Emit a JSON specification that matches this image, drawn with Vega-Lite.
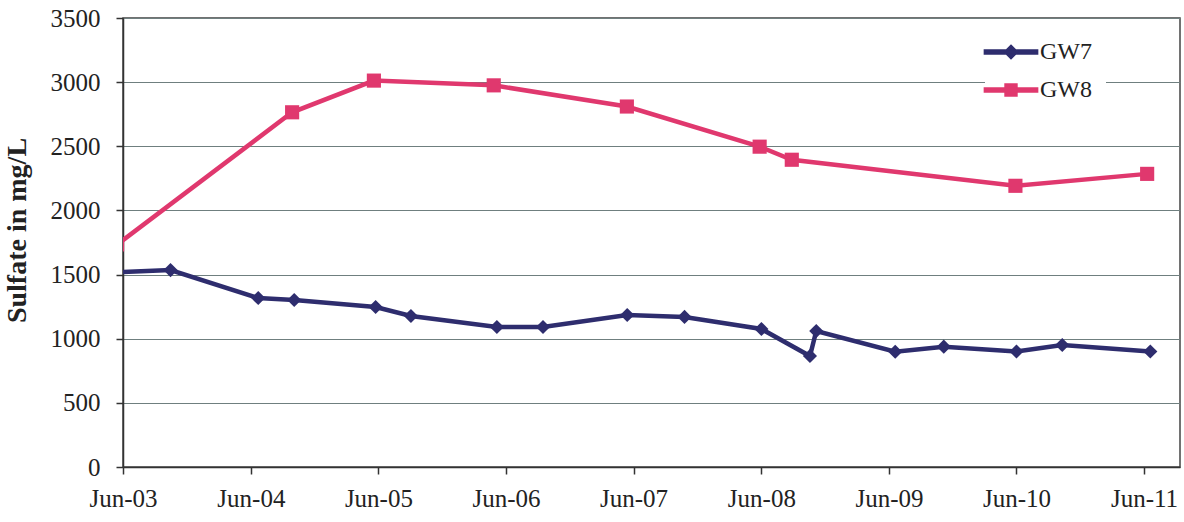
{
  "$schema": "https://vega.github.io/schema/vega-lite/v6.json",
  "width": 1057,
  "height": 449,
  "autosize": {"type": "none"},
  "padding": {"left": 123, "top": 18, "right": 4, "bottom": 55},
  "background": "white",
  "config": {
    "view": {"stroke": "#444", "strokeWidth": 1.5},
    "font": "Liberation Serif"
  },
  "data": {
    "values": [
      {"date": "2003-05-15", "series": "GW7", "sulfate": 1518},
      {"date": "2003-10-15", "series": "GW7", "sulfate": 1535},
      {"date": "2004-06-22", "series": "GW7", "sulfate": 1317},
      {"date": "2004-10-03", "series": "GW7", "sulfate": 1302},
      {"date": "2005-05-24", "series": "GW7", "sulfate": 1247},
      {"date": "2005-09-02", "series": "GW7", "sulfate": 1177},
      {"date": "2006-05-06", "series": "GW7", "sulfate": 1091},
      {"date": "2006-09-15", "series": "GW7", "sulfate": 1091},
      {"date": "2007-05-14", "series": "GW7", "sulfate": 1185},
      {"date": "2007-10-25", "series": "GW7", "sulfate": 1170},
      {"date": "2008-06-01", "series": "GW7", "sulfate": 1076},
      {"date": "2008-10-18", "series": "GW7", "sulfate": 865},
      {"date": "2008-11-05", "series": "GW7", "sulfate": 1060},
      {"date": "2009-06-19", "series": "GW7", "sulfate": 898},
      {"date": "2009-11-05", "series": "GW7", "sulfate": 938},
      {"date": "2010-06-01", "series": "GW7", "sulfate": 900},
      {"date": "2010-10-10", "series": "GW7", "sulfate": 951},
      {"date": "2011-06-19", "series": "GW7", "sulfate": 900},
      {"date": "2003-05-15", "series": "GW8", "sulfate": 1734},
      {"date": "2004-09-27", "series": "GW8", "sulfate": 2765},
      {"date": "2005-05-19", "series": "GW8", "sulfate": 3012},
      {"date": "2006-04-27", "series": "GW8", "sulfate": 2975},
      {"date": "2007-05-13", "series": "GW8", "sulfate": 2810},
      {"date": "2008-05-27", "series": "GW8", "sulfate": 2497},
      {"date": "2008-08-27", "series": "GW8", "sulfate": 2395},
      {"date": "2010-05-29", "series": "GW8", "sulfate": 2192},
      {"date": "2011-06-10", "series": "GW8", "sulfate": 2285}
    ]
  },
  "encoding": {
    "x": {
      "field": "date",
      "type": "temporal",
      "scale": {
        "type": "utc",
        "domain": [
          {"year": 2003, "month": 6, "date": 1, "utc": true},
          {"year": 2011, "month": 9, "date": 12, "utc": true}
        ]
      },
      "axis": {
        "title": null,
        "values": [
          {"year": 2003, "month": 6, "date": 1, "utc": true},
          {"year": 2004, "month": 6, "date": 1, "utc": true},
          {"year": 2005, "month": 6, "date": 1, "utc": true},
          {"year": 2006, "month": 6, "date": 1, "utc": true},
          {"year": 2007, "month": 6, "date": 1, "utc": true},
          {"year": 2008, "month": 6, "date": 1, "utc": true},
          {"year": 2009, "month": 6, "date": 1, "utc": true},
          {"year": 2010, "month": 6, "date": 1, "utc": true},
          {"year": 2011, "month": 6, "date": 1, "utc": true}
        ],
        "labelExpr": "utcFormat(datum.value, '%b-%y')",
        "grid": false,
        "labelFont": "Liberation Serif",
        "labelFontSize": 25,
        "labelColor": "#222",
        "labelPadding": 12,
        "labelFlush": false,
        "labelOverlap": false,
        "tickSize": 7,
        "tickColor": "#333",
        "tickWidth": 1.5,
        "domainColor": "#333",
        "domainWidth": 1.5
      }
    },
    "y": {
      "field": "sulfate",
      "type": "quantitative",
      "scale": {"domain": [0, 3500], "nice": false, "zero": true},
      "axis": {
        "title": "Sulfate in mg/L",
        "titleFont": "Liberation Serif",
        "titleFontSize": 28,
        "titleFontWeight": "bold",
        "titleColor": "#222",
        "titleAngle": -90,
        "titleAlign": "center",
        "titleBaseline": "bottom",
        "titleX": -92,
        "titleY": 212,
        "values": [0, 500, 1000, 1500, 2000, 2500, 3000, 3500],
        "format": "d",
        "labelFont": "Liberation Serif",
        "labelFontSize": 25,
        "labelColor": "#222",
        "labelPadding": 16,
        "labelFlush": false,
        "tickSize": 7,
        "tickColor": "#333",
        "tickWidth": 1.5,
        "domainColor": "#333",
        "domainWidth": 1.5,
        "grid": true,
        "gridColor": "#6f7f7f",
        "gridWidth": 1
      }
    },
    "color": {
      "field": "series",
      "type": "nominal",
      "scale": {"domain": ["GW7", "GW8"], "range": ["#2E2D6E", "#E0386E"]},
      "legend": {
        "title": null,
        "orient": "none",
        "legendX": 862,
        "legendY": 8,
        "padding": 14,
        "fillColor": "white",
        "strokeColor": null,
        "symbolSize": 196,
        "labelFont": "Liberation Serif",
        "labelFontSize": 24,
        "labelColor": "#222",
        "labelOffset": 17,
        "rowPadding": 14,
        "encode": {
          "symbols": {
            "update": {
              "shape": {"signal": "datum.value === 'GW7' ? 'M-3.8,-0.3L3.8,-0.3L3.8,0.3L-3.8,0.3ZM0,-0.95L0.95,0L0,0.95L-0.95,0Z' : 'M-3.8,-0.3L3.8,-0.3L3.8,0.3L-3.8,0.3ZM-0.85,-0.85L0.85,-0.85L0.85,0.85L-0.85,0.85Z'"},
              "fill": {"scale": "color", "field": "value"},
              "fillOpacity": {"value": 1},
              "stroke": {"value": "transparent"},
              "opacity": {"value": 1}
            }
          }
        }
      }
    }
  },
  "layer": [
    {
      "mark": {"type": "line", "strokeWidth": 4.5, "clip": true},
      "encoding": {"detail": {"field": "series"}}
    },
    {
      "transform": [{"filter": "datum.series === 'GW7'"}],
      "mark": {"type": "point", "shape": "diamond", "filled": true, "opacity": 1, "size": 200, "clip": true}
    },
    {
      "transform": [{"filter": "datum.series === 'GW8'"}],
      "mark": {"type": "point", "shape": "square", "filled": true, "opacity": 1, "size": 200, "clip": true}
    }
  ]
}
